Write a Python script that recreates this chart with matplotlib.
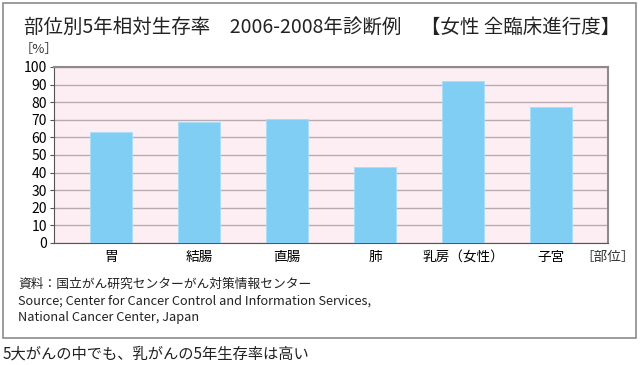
import matplotlib
matplotlib.use('Agg')
import matplotlib.pyplot as plt
from matplotlib.patches import Rectangle

plt.rcParams['font.family'] = ['Noto Sans CJK JP', 'DejaVu Sans']

# data
sites = ['胃', '結腸', '直腸', '肺', '乳房（女性）', '子宮']
survival = [62.8, 68.5, 70.2, 43.3, 92.2, 77.0]
yticks = list(range(0, 101, 10))

title = '部位別5年相対生存率　2006-2008年診断例　【女性 全臨床進行度】'
source = ['資料：国立がん研究センターがん対策情報センター',
          'Source; Center for Cancer Control and Information Services,',
          'National Cancer Center, Japan']
caption = '5大がんの中でも、乳がんの5年生存率は高い'

fig = plt.figure(figsize=(6.4, 3.65), dpi=100)
W, H = 640, 365

# outer frame
fig.patches.append(Rectangle((3 / W, 1 - 338 / H), 633 / W, 335 / H,
                             transform=fig.transFigure, fill=False,
                             edgecolor='#8f8a8c', linewidth=1.2))

ax = fig.add_axes([54 / W, 1 - 243 / H, 554 / W, 176 / H])
ax.set_facecolor('#fdeef4')
x = list(range(len(sites)))
ax.bar(x, survival, width=0.48, color='#80cef4', edgecolor='#a8ddf7',
       linewidth=0.6, zorder=3)
ax.set_xlim(-0.65, len(sites) - 0.35)
ax.set_ylim(0, 100)
ax.set_yticks(yticks)
ax.set_xticks(x)
ax.set_xticklabels(sites, fontsize=9.8)
ax.tick_params(axis='y', labelsize=10, length=3, color='#555555', pad=2)
ax.tick_params(axis='x', length=0, pad=5)
ax.grid(axis='y', color='#bcaab3', linewidth=1.0, zorder=1)
for s in ['top', 'right']:
    ax.spines[s].set_color('#8f8a8c')
    ax.spines[s].set_linewidth(1.5)
ax.spines['left'].set_color('#555555')
ax.spines['bottom'].set_color('#555555')
ax.spines['left'].set_linewidth(0.8)
ax.spines['bottom'].set_linewidth(0.8)

fig.text(24 / W, 1 - 27 / H, title, fontsize=14, va='center', ha='left',
         color='#222222')
fig.text(20 / W, 1 - 49 / H, '［%］', fontsize=9.5, va='center', ha='left',
         color='#333333')
fig.text(580 / W, 1 - 257 / H, '［部位］', fontsize=9.8, va='center', ha='left',
         color='#333333')
for i, line in enumerate(source):
    fig.text(18 / W, 1 - (284 + i * 17) / H, line, fontsize=9.2,
             va='center', ha='left', color='#222222')
fig.text(3 / W, 1 - 354 / H, caption, fontsize=11, va='center', ha='left',
         color='#222222')

fig.savefig('out.png', dpi=100)
